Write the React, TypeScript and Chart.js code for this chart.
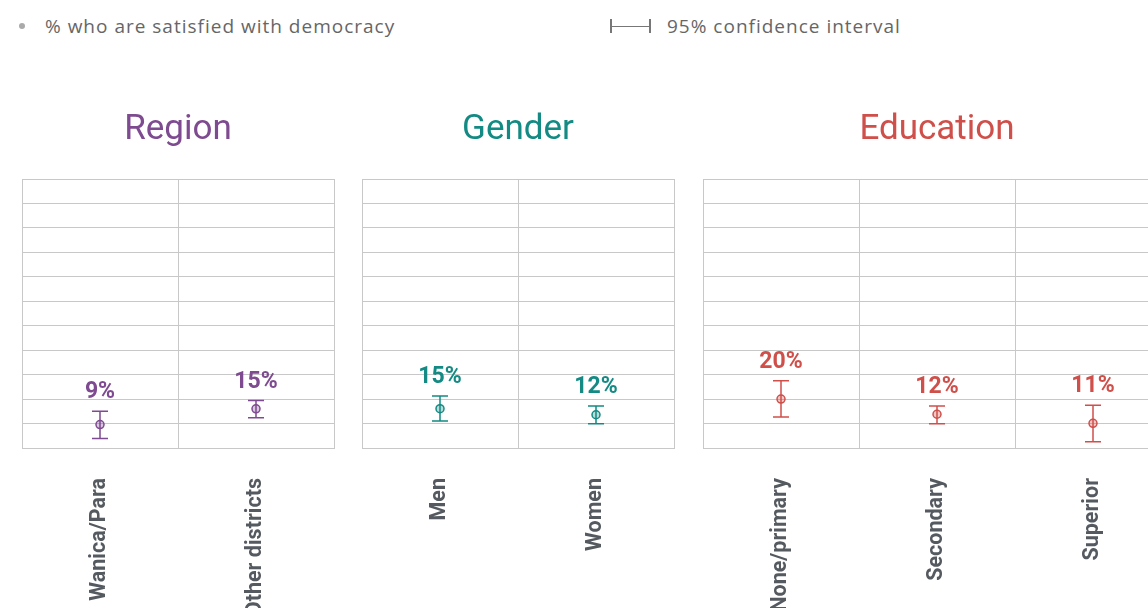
import React, { useEffect, useRef } from 'react';
import { Chart, registerables } from 'chart.js';

Chart.register(...registerables);

// ---- data ----
const yMin = 0;
const yMax = 110;
const yStep = 10;

const legendSeries = '% who are satisfied with democracy';
const legendCI = '95% confidence interval';

const regionTitle = 'Region';
const regionCategories = ['Wanica/Para', 'Other districts'];
const regionValues = [9.6, 16.0];
const regionLow = [3.9, 12.4];
const regionHigh = [15.0, 19.4];
const regionLabels = ['9%', '15%'];

const genderTitle = 'Gender';
const genderCategories = ['Men', 'Women'];
const genderValues = [16.1, 13.6];
const genderLow = [11.0, 9.9];
const genderHigh = [21.3, 17.2];
const genderLabels = ['15%', '12%'];

const educationTitle = 'Education';
const educationCategories = ['None/primary', 'Secondary', 'Superior'];
const educationValues = [20.0, 13.8, 10.1];
const educationLow = [12.7, 9.9, 2.6];
const educationHigh = [27.5, 17.2, 17.5];
const educationLabels = ['20%', '12%', '11%'];

const GRID = '#c8c8c8';
const AXIS_LABEL = '#555a60';

type PanelProps = {
  title: string;
  categories: string[];
  values: number[];
  low: number[];
  high: number[];
  labels: string[];
  color: string;
  fill: string;
  left: number;
  plotWidth: number;
};

function Panel(p: PanelProps) {
  const ref = useRef<HTMLCanvasElement | null>(null);
  const pad = 22;
  const width = p.plotWidth + pad * 2;
  const height = 528;

  useEffect(() => {
    if (!ref.current) return;
    const errorBars = {
      id: 'errorBars',
      beforeDatasetsDraw(chart: any) {
        const x = chart.scales.x;
        const y = chart.scales.y;
        const ctx = chart.ctx;
        ctx.save();
        ctx.strokeStyle = p.color;
        ctx.lineWidth = 1.5;
        p.categories.forEach((_c, i) => {
          const px = x.getPixelForValue(i);
          const yl = y.getPixelForValue(p.low[i]);
          const yh = y.getPixelForValue(p.high[i]);
          ctx.beginPath();
          ctx.moveTo(px, yl);
          ctx.lineTo(px, yh);
          ctx.moveTo(px - 8, yh);
          ctx.lineTo(px + 8, yh);
          ctx.moveTo(px - 8, yl);
          ctx.lineTo(px + 8, yl);
          ctx.stroke();
        });
        ctx.restore();
      },
      afterDatasetsDraw(chart: any) {
        const x = chart.scales.x;
        const y = chart.scales.y;
        const ctx = chart.ctx;
        ctx.save();
        ctx.fillStyle = p.color;
        ctx.font = 'bold 23px Roboto';
        ctx.textAlign = 'center';
        ctx.textBaseline = 'alphabetic';
        p.categories.forEach((_c, i) => {
          const px = x.getPixelForValue(i);
          const yh = y.getPixelForValue(p.high[i]);
          ctx.fillText(p.labels[i], px, yh - 13);
        });
        ctx.restore();
      },
    };

    const chart = new Chart(ref.current, {
      type: 'line',
      data: {
        labels: p.categories,
        datasets: [
          {
            data: p.values,
            showLine: false,
            pointRadius: 4,
            pointHoverRadius: 4,
            pointBorderWidth: 1.5,
            pointBorderColor: p.color,
            pointBackgroundColor: p.fill,
            borderColor: p.color,
            backgroundColor: p.fill,
          },
        ],
      },
      options: {
        responsive: false,
        animation: false,
        events: [],
        layout: { padding: { left: pad, right: pad, top: 0, bottom: 0 } },
        plugins: {
          legend: { display: false },
          tooltip: { enabled: false },
          title: {
            display: true,
            text: p.title,
            color: p.color,
            font: { family: 'Roboto', size: 35, weight: 'normal', lineHeight: 1.2 },
            padding: { top: 29, bottom: 28 },
          },
        },
        scales: {
          x: {
            type: 'category',
            offset: true,
            grid: { offset: true, color: GRID, drawTicks: false, lineWidth: 1 },
            border: { display: true, color: GRID },
            ticks: {
              minRotation: 90,
              maxRotation: 90,
              autoSkip: false,
              padding: 30,
              color: AXIS_LABEL,
              font: { family: 'Roboto', size: 21.5, weight: 'bold' },
            },
            afterFit(scale: any) {
              scale.height = 160;
            },
          },
          y: {
            min: yMin,
            max: yMax,
            ticks: { display: false, stepSize: yStep },
            grid: { color: GRID, drawTicks: false, lineWidth: 1 },
            border: { display: true, color: GRID },
          },
        },
      },
      plugins: [errorBars],
    } as any);
    return () => chart.destroy();
  }, []);

  return (
    <div style={{ position: 'absolute', left: p.left - pad, top: 80, width, height }}>
      <canvas ref={ref} width={width} height={height} style={{ width, height, display: 'block' }} />
    </div>
  );
}

const legendText: React.CSSProperties = {
  position: 'absolute',
  top: 12,
  height: 28,
  lineHeight: '28px',
  fontFamily: '"Open Sans", sans-serif',
  fontSize: 19,
  letterSpacing: '1px',
  color: '#666666',
  whiteSpace: 'nowrap',
};

export default function App() {
  return (
    <div
      style={{
        position: 'fixed',
        left: 0,
        top: 0,
        width: 1148,
        height: 608,
        overflow: 'hidden',
        background: '#ffffff',
      }}
    >
      {/* legend */}
      <div style={{ position: 'absolute', left: 19, top: 23, width: 6, height: 6, borderRadius: 3, background: '#aaaaaa' }} />
      <div style={{ ...legendText, left: 45 }}>{legendSeries}</div>
      <div style={{ position: 'absolute', left: 610, top: 19, width: 1.5, height: 14, background: '#777' }} />
      <div style={{ position: 'absolute', left: 611, top: 25.5, width: 38, height: 1.2, background: '#777' }} />
      <div style={{ position: 'absolute', left: 649, top: 19, width: 1.5, height: 14, background: '#777' }} />
      <div style={{ ...legendText, left: 667 }}>{legendCI}</div>

      <Panel
        title={regionTitle}
        categories={regionCategories}
        values={regionValues}
        low={regionLow}
        high={regionHigh}
        labels={regionLabels}
        color="#7e4a90"
        fill="rgba(126,74,144,0.3)"
        left={22}
        plotWidth={312}
      />
      <Panel
        title={genderTitle}
        categories={genderCategories}
        values={genderValues}
        low={genderLow}
        high={genderHigh}
        labels={genderLabels}
        color="#138a83"
        fill="rgba(19,138,131,0.3)"
        left={362}
        plotWidth={312}
      />
      <Panel
        title={educationTitle}
        categories={educationCategories}
        values={educationValues}
        low={educationLow}
        high={educationHigh}
        labels={educationLabels}
        color="#cf4f4a"
        fill="rgba(207,79,74,0.3)"
        left={703}
        plotWidth={468}
      />
    </div>
  );
}
